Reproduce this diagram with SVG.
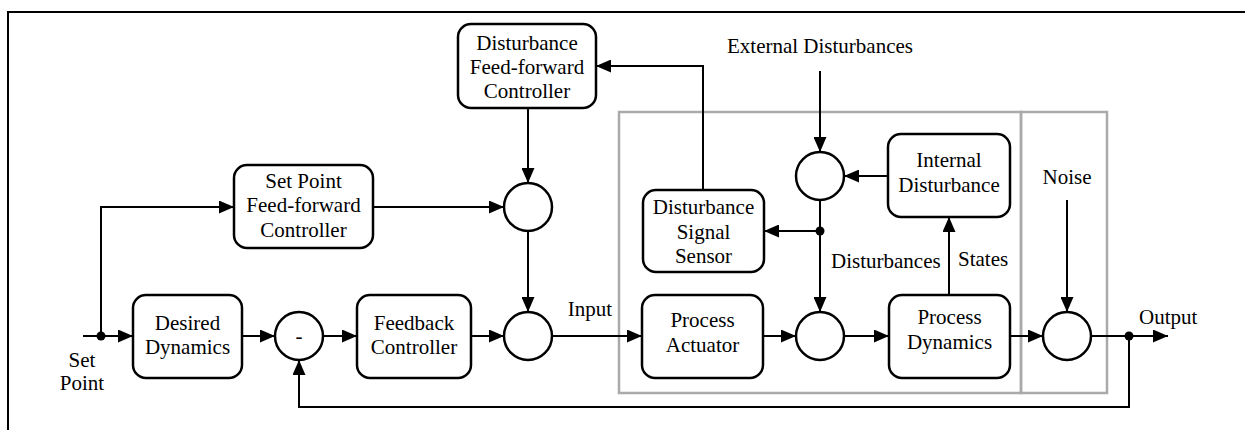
<svg xmlns="http://www.w3.org/2000/svg" width="1245" height="430" viewBox="0 0 1245 430" font-family="'Liberation Serif', Tinos, 'Times New Roman', 'DejaVu Serif', serif" font-size="21">
  <defs>
    <marker id="arr" viewBox="0 0 15 13" refX="15" refY="6.5" markerWidth="15" markerHeight="13" markerUnits="userSpaceOnUse" orient="auto">
      <path d="M0,0 L15,6.5 L0,13 Z" fill="#000"/>
    </marker>
    <style>
      .blk { fill: #fff; stroke: #000; stroke-width: 2.5; }
      .sum { fill: #fff; stroke: #000; stroke-width: 2.5; }
      .grp { fill: none; stroke: #aaa; stroke-width: 2.5; }
      .ln { fill: none; stroke: #000; stroke-width: 2; }
      .ar { marker-end: url(#arr); }
      .dot { fill: #000; }
      .c { text-anchor: middle; }
    </style>
  </defs>
  <rect width="1245" height="430" fill="#fff"/>

  <!-- page frame -->
  <path d="M8,430 L8,12 L1245,12" fill="none" stroke="#000" stroke-width="2"/>

  <!-- process and noise groupings -->
  <g id="process-group">
    <rect class="grp" x="619" y="112" width="402" height="281"/>
  </g>
  <g id="noise-group">
    <rect class="grp" x="1021" y="112" width="86" height="281"/>
  </g>

  <!-- connectors -->
  <g id="connectors">
    <path class="ln" d="M83,336 L101,336"/>
    <path class="ln ar" d="M101,336 L133,336"/>
    <path class="ln ar" d="M101,336 L101,207 L234,207"/>
    <path class="ln ar" d="M242,336 L275,336"/>
    <path class="ln ar" d="M323,336 L357,336"/>
    <path class="ln ar" d="M471,336 L504,336"/>
    <path class="ln ar" d="M373,207 L504,207"/>
    <path class="ln ar" d="M528,108 L528,183"/>
    <path class="ln ar" d="M528,231 L528,312"/>
    <path class="ln ar" d="M552,336 L642,336"/>
    <path class="ln ar" d="M763,336 L796,336"/>
    <path class="ln ar" d="M844,336 L889,336"/>
    <path class="ln ar" d="M1010,336 L1043,336"/>
    <path class="ln ar" d="M1091,336 L1168,336"/>
    <path class="ln ar" d="M1129,336 L1129,407 L299,407 L299,360"/>
    <path class="ln ar" d="M820,71 L820,152"/>
    <path class="ln ar" d="M888,176 L844,176"/>
    <path class="ln ar" d="M820,200 L820,312"/>
    <path class="ln ar" d="M820,231 L764,231"/>
    <path class="ln ar" d="M703,190 L703,66 L596,66"/>
    <path class="ln ar" d="M949,295 L949,217"/>
    <path class="ln ar" d="M1067,200 L1067,312"/>
    <circle class="dot" cx="101" cy="336" r="4.5"/>
    <circle class="dot" cx="820" cy="231" r="4.5"/>
    <circle class="dot" cx="1129" cy="336" r="4.5"/>
  </g>

  <!-- blocks -->
  <g id="desired-dynamics">
    <rect class="blk" x="133" y="295" width="109" height="83" rx="13"/>
    <text class="c" x="187.5" y="330">Desired</text>
    <text class="c" x="187.5" y="354">Dynamics</text>
  </g>
  <g id="feedback-controller">
    <rect class="blk" x="357" y="295" width="114" height="83" rx="13"/>
    <text class="c" x="414" y="330">Feedback</text>
    <text class="c" x="414" y="354">Controller</text>
  </g>
  <g id="setpoint-ff-controller">
    <rect class="blk" x="234" y="165" width="139" height="83" rx="13"/>
    <text class="c" x="303.5" y="188">Set Point</text>
    <text class="c" x="303.5" y="212">Feed-forward</text>
    <text class="c" x="303.5" y="237">Controller</text>
  </g>
  <g id="disturbance-ff-controller">
    <rect class="blk" x="458" y="24" width="138" height="84" rx="13"/>
    <text class="c" x="527" y="50">Disturbance</text>
    <text class="c" x="527" y="74">Feed-forward</text>
    <text class="c" x="527" y="98">Controller</text>
  </g>
  <g id="disturbance-signal-sensor">
    <rect class="blk" x="643" y="190" width="121" height="82" rx="13"/>
    <text class="c" x="703.5" y="214">Disturbance</text>
    <text class="c" x="703.5" y="239">Signal</text>
    <text class="c" x="703.5" y="263">Sensor</text>
  </g>
  <g id="process-actuator">
    <rect class="blk" x="642" y="295" width="121" height="83" rx="13"/>
    <text class="c" x="702.5" y="327">Process</text>
    <text class="c" x="702.5" y="352">Actuator</text>
  </g>
  <g id="internal-disturbance">
    <rect class="blk" x="888" y="134" width="122" height="83" rx="13"/>
    <text class="c" x="949" y="167">Internal</text>
    <text class="c" x="949" y="192">Disturbance</text>
  </g>
  <g id="process-dynamics">
    <rect class="blk" x="889" y="295" width="121" height="83" rx="13"/>
    <text class="c" x="949.5" y="324">Process</text>
    <text class="c" x="949.5" y="349">Dynamics</text>
  </g>

  <!-- summing junctions -->
  <g id="sum-error">
    <circle class="sum" cx="299" cy="336" r="24"/>
    <text class="c" x="299" y="343">-</text>
  </g>
  <g id="sum-feedforward">
    <circle class="sum" cx="528" cy="207" r="24"/>
  </g>
  <g id="sum-input">
    <circle class="sum" cx="528" cy="336" r="24"/>
  </g>
  <g id="sum-external">
    <circle class="sum" cx="820" cy="176" r="24"/>
  </g>
  <g id="sum-disturbance">
    <circle class="sum" cx="820" cy="336" r="24"/>
  </g>
  <g id="sum-noise">
    <circle class="sum" cx="1067" cy="336" r="24"/>
  </g>

  <!-- signal labels -->
  <g id="labels">
    <text class="c" x="82" y="367">Set</text>
    <text class="c" x="82" y="390">Point</text>
    <text class="c" x="590" y="316">Input</text>
    <text class="c" x="820" y="53">External Disturbances</text>
    <text x="831" y="268">Disturbances</text>
    <text x="958" y="266">States</text>
    <text class="c" x="1067" y="184">Noise</text>
    <text x="1139" y="324">Output</text>
  </g>
</svg>
